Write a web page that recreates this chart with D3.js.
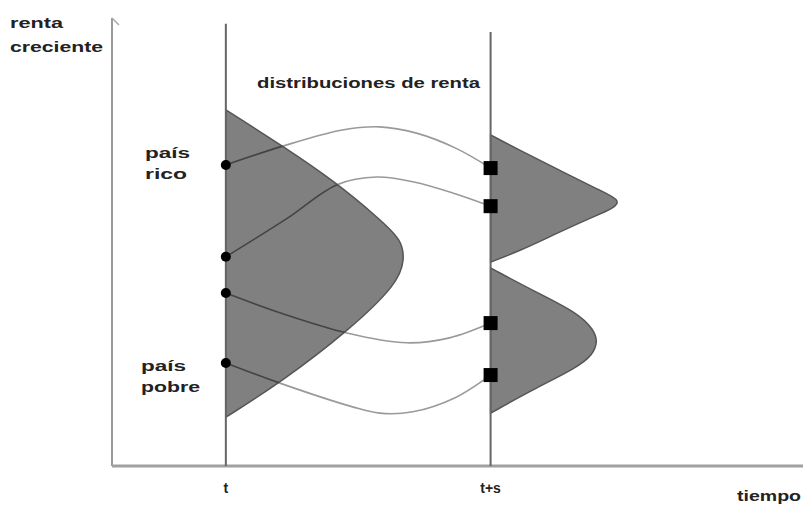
<!DOCTYPE html>
<html>
<head>
<meta charset="utf-8">
<script src="https://cdnjs.cloudflare.com/ajax/libs/d3/7.8.5/d3.min.js"></script>
<style>
  html, body { margin: 0; padding: 0; background: #fff; }
  text { font-family: "Liberation Sans", Arial, sans-serif; font-weight: bold; fill: #222; }
</style>
</head>
<body>
<svg id="chart"></svg>
<script>
// time positions of the two vertical lines (t = 0, t+s = 1)
const timeLabels = ["t", "t+s"];
const timeValues = [0, 1];
const timeLineTop = [98.7, 96.9];

// income of each country at t (dots) and at t+s (squares)
const incomeAtT = [67.2, 46.7, 38.6, 23.0];
const incomeAtTs = [66.5, 58.0, 31.9, 20.3];

// paths of the four countries: [time, income]
const path1 = [[0, 67.2], [0.215, 71.4], [0.44, 75.0], [0.58, 75.7], [0.72, 74.3], [0.87, 70.9], [1, 66.5]];
const path2 = [[0, 46.7], [0.23, 55.2], [0.42, 62.8], [0.57, 64.5], [0.71, 63.4], [0.86, 60.9], [1, 58.0]];
const path3 = [[0, 38.6], [0.204, 34.2], [0.457, 29.7], [0.683, 27.5], [0.845, 28.6], [1, 31.9]];
const path4 = [[0, 23.0], [0.204, 18.5], [0.479, 13.2], [0.581, 11.8], [0.706, 12.1], [0.864, 15.2], [1, 20.3]];

// income distributions: [income, density width in time units]
const distAtT = [[79.5, 0], [71.4, 0.215], [63.2, 0.419], [54.9, 0.585], [50.4, 0.665], [46.0, 0.675],
                 [40.8, 0.65], [30.4, 0.468], [18.5, 0.204], [10.9, 0]];
const distAtTsHigh = [[73.9, 0], [70.5, 0.109], [66.1, 0.257], [61.6, 0.41], [59.4, 0.49], [57.6, 0.47],
                      [55.2, 0.37], [51.6, 0.238], [48.2, 0.117], [45.5, 0]];
const distAtTsLow = [[44.2, 0], [39.3, 0.155], [34.2, 0.33], [30.4, 0.39], [27.7, 0.405], [24.8, 0.385],
                     [22.1, 0.33], [17.0, 0.158], [11.8, 0]];

const width = 803, height = 505;
const svg = d3.select("#chart").attr("width", width).attr("height", height);

const x = d3.scaleLinear().domain([-0.43, 2.18]).range([112, 803]);
const y = d3.scaleLinear().domain([0, 100]).range([466, 18]);

const line = d3.line().x(d => x(d[0])).y(d => y(d[1])).curve(d3.curveCatmullRom.alpha(0.5));

function distPath(dist, t0) {
  const l = d3.line().x(d => x(t0 + d[1])).y(d => y(d[0])).curve(d3.curveBasis);
  return l(dist) + "Z";
}

const dists = [
  { data: distAtT, t: timeValues[0] },
  { data: distAtTsHigh, t: timeValues[1] },
  { data: distAtTsLow, t: timeValues[1] }
];
const paths = [path1, path2, path3, path4];

// clip for the darker part of the curves inside the shapes
const clip = svg.append("defs").append("clipPath").attr("id", "distClip");
clip.selectAll("path").data(dists).enter().append("path")
  .attr("d", d => distPath(d.data, d.t));

// axes
svg.append("line")
  .attr("x1", x(-0.43)).attr("x2", x(-0.43))
  .attr("y1", y(0)).attr("y2", y(100))
  .attr("stroke", "#999").attr("stroke-width", 2);
svg.append("line")
  .attr("x1", x(-0.43)).attr("x2", x(-0.43) + 7)
  .attr("y1", y(100)).attr("y2", y(100) + 7)
  .attr("stroke", "#aaa").attr("stroke-width", 1.5);
svg.append("line")
  .attr("x1", x(-0.43)).attr("x2", x(2.18))
  .attr("y1", y(0)).attr("y2", y(0))
  .attr("stroke", "#a0a0a0").attr("stroke-width", 3);

// light curves (outside the shapes)
svg.selectAll(".curve-light").data(paths).enter().append("path")
  .attr("class", "curve-light")
  .attr("d", line)
  .attr("fill", "none")
  .attr("stroke", "#9a9a9a")
  .attr("stroke-width", 1.6);

// distributions
svg.selectAll(".dist").data(dists).enter().append("path")
  .attr("class", "dist")
  .attr("d", d => distPath(d.data, d.t))
  .attr("fill", "#808080")
  .attr("stroke", "#555")
  .attr("stroke-width", 1.5);

// dark curves inside the shapes
svg.append("g").attr("clip-path", "url(#distClip)")
  .selectAll("path").data(paths).enter().append("path")
  .attr("d", line)
  .attr("fill", "none")
  .attr("stroke", "#444")
  .attr("stroke-width", 1.6);

// vertical time lines
svg.selectAll(".tline").data(timeValues).enter().append("line")
  .attr("class", "tline")
  .attr("x1", d => x(d)).attr("x2", d => x(d))
  .attr("y1", y(0)).attr("y2", (d, i) => y(timeLineTop[i]))
  .attr("stroke", "#666").attr("stroke-width", 2);

// markers
svg.selectAll(".dot").data(incomeAtT).enter().append("circle")
  .attr("cx", x(timeValues[0])).attr("cy", d => y(d))
  .attr("r", 5).attr("fill", "#000");
svg.selectAll(".sq").data(incomeAtTs).enter().append("rect")
  .attr("x", x(timeValues[1]) - 7).attr("y", d => y(d) - 7)
  .attr("width", 14).attr("height", 14).attr("fill", "#000");

// labels
function label(txt, lx, ly, len, anchor) {
  svg.append("text")
    .attr("x", lx).attr("y", ly)
    .attr("text-anchor", anchor || "start")
    .style("font-size", "14px")
    .attr("textLength", len).attr("lengthAdjust", "spacingAndGlyphs")
    .text(txt);
}
label("renta", 10, 28, 53);
label("creciente", 10, 52, 93);
label("distribuciones de renta", 257, 88, 223);
label("país", 145, 158, 45);
label("rico", 145, 179, 42);
label("país", 141, 371, 45);
label("pobre", 141, 392, 59);
label("tiempo", 737, 501, 64);

svg.selectAll(".tlabel").data(timeLabels).enter().append("text")
  .attr("x", (d, i) => x(timeValues[i]))
  .attr("y", 493)
  .attr("text-anchor", "middle")
  .style("font-size", "14px")
  .text(d => d);
</script>
</body>
</html>
